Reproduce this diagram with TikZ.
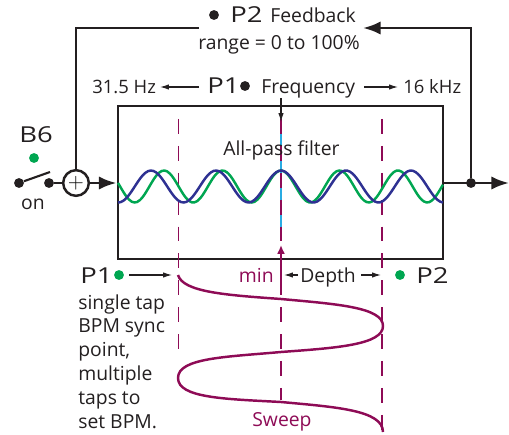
\documentclass[tikz,border=0pt]{standalone}
\usepackage{fontspec}
\setmainfont{Open Sans}
\newfontfamily\widefont[FakeStretch=1.25]{Open Sans}
\usetikzlibrary{arrows.meta}
\definecolor{inkblack}{HTML}{231F20}
\definecolor{sweepred}{HTML}{8E0B56}
\definecolor{ledgreen}{HTML}{00A651}
\definecolor{waveblue}{HTML}{2E3192}
\definecolor{centercyan}{HTML}{29ABE2}
\tikzset{
	lbl/.style={inner sep=0pt, text=inkblack, font=\fontsize{11}{13.6}\selectfont},
	hzlbl/.style={inner sep=0pt, text=inkblack, font=\fontsize{10.5}{13.6}\selectfont},
	taplbl/.style={inner sep=0pt, text=inkblack, font=\fontsize{11}{13.6}\selectfont},
	biglbl/.style={inner sep=0pt, text=inkblack, font=\fontsize{12.5}{14}\selectfont\widefont},
	flow/.style={draw=inkblack, line width=1.5pt, -{Latex[length=10pt,width=7.5pt]}},
	thinarrow/.style={draw=inkblack, line width=0.6pt, -{Latex[length=5pt,width=3pt]}},
	blackdot/.style={circle, fill=inkblack, inner sep=0pt, minimum size=5.6pt},
	greendot/.style={circle, fill=ledgreen, inner sep=0pt, minimum size=5.6pt},
	guide/.style={draw=sweepred, line width=0.7pt, dash pattern=on 8.5pt off 6.8pt},
}
\begin{document}
\begin{tikzpicture}
	\useasboundingbox (0.00,0.00) rectangle (10.18,8.68);
	% filter box and the guides
	\node[draw=inkblack, line width=1.7pt, minimum width=6.50cm, minimum height=3.06cm, inner sep=0pt] (filter) at (5.61,5.03) {};
	\draw[draw=centercyan, line width=0.7pt] (5.62,6.24) -- (5.62,4.06);
	\draw[guide] (3.57,6.30) -- (3.57,1.58);
	\draw[guide] (5.62,6.30) -- (5.62,0.68);
	\draw[guide] (7.64,6.30) -- (7.64,0.04);
	% the two waves
	\draw[draw=ledgreen, line width=1.4pt] plot[smooth, samples=120, domain=2.36:8.86] (\x,{4.95+0.32*cos(360*(\x-5.62)/1.17)});
	\draw[draw=waveblue, line width=1.4pt] plot[smooth, samples=120, domain=2.36:8.86] (\x,{4.95+0.32*cos(360*(\x-5.62)/1.30)});
	% sweep
	\draw[draw=sweepred, line width=1.4pt] (3.56,3.18) .. controls (3.66,2.84) and (4.50,2.78) .. (5.62,2.70)
		.. controls (6.70,2.60) and (7.66,2.54) .. (7.66,2.16)
		.. controls (7.66,1.78) and (6.70,1.72) .. (5.62,1.64)
		.. controls (4.50,1.54) and (3.56,1.52) .. (3.56,1.12)
		.. controls (3.56,0.72) and (4.50,0.70) .. (5.62,0.64)
		.. controls (6.70,0.54) and (7.66,0.48) .. (7.66,0.04);
	% switch and mixer
	\node[blackdot] (swleft) at (0.38,5.02) {};
	\node[blackdot] (swright) at (0.98,5.02) {};
	\coordinate (swarm) at (1.00,5.24);
	\node[circle, draw=inkblack, fill=white, line width=1.4pt, minimum size=14.6pt, inner sep=0pt, font=\fontsize{13}{13}\selectfont] (mixer) at (1.52,5.02) {$+$};
	\node[blackdot] (tap) at (9.42,5.02) {};
	\coordinate (outend) at (10.18,5.02);
	\coordinate (fbstart) at (3.98,8.12);
	\coordinate (fbend) at (7.26,8.12);
	\draw[draw=inkblack, line width=1.2pt] (swleft) -- (swarm);
	\draw[draw=inkblack, line width=1.2pt] (swright) -- (mixer);
	\draw[flow] (mixer) -- (filter.west |- mixer);
	\draw[draw=inkblack, line width=1.5pt] (fbstart) -| (mixer.north);
	\draw[flow] (tap) |- (fbend);
	\draw[flow] (filter.east |- tap) -- (outend);
	% top labels
	\node[blackdot] (fbdot) at (4.28,8.38) {};
	\node[biglbl, anchor=base west] (fbknob) at (4.60,8.22) {P2};
	\node[lbl, anchor=base west] (fbtext) at (5.40,8.22) {Feedback};
	\node[lbl, anchor=base west] (fbrange) at (3.96,7.70) {range = 0 to 100\%};
	\node[hzlbl, anchor=base west] (lowhz) at (1.84,6.82) {31.5 Hz};
	\node[biglbl, anchor=base west] (freqknob) at (4.14,6.82) {P1};
	\node[blackdot] (freqdot) at (4.90,6.96) {};
	\node[lbl, anchor=base west] (freqtext) at (5.22,6.82) {Frequency};
	\node[hzlbl, anchor=base west] (highhz) at (8.06,6.82) {16 kHz};
	\node[lbl, anchor=base west] (filtertext) at (4.46,5.58) {All-pass filter};
	\node[biglbl, anchor=base west] (btnlabel) at (0.38,5.82) {B6};
	\node[greendot] (btndot) at (0.68,5.52) {};
	\node[lbl, anchor=base] (onlabel) at (0.66,4.48) {on};
	% lower labels
	\node[biglbl, anchor=base west] (tapknob) at (1.60,3.02) {P1};
	\node[greendot] (tapdot) at (2.38,3.18) {};
	\node[taplbl, anchor=north west, align=left] (taptext) at (1.56,2.80) {single tap\\BPM sync\\point,\\multiple\\taps to\\set BPM.};
	\node[lbl, text=sweepred, anchor=base east] (minlabel) at (5.48,3.04) {min};
	\node[lbl, anchor=base west] (depthtext) at (6.00,3.04) {Depth};
	\node[greendot] (depthdot) at (8.00,3.18) {};
	\node[biglbl, anchor=base west] (depthknob) at (8.32,3.02) {P2};
	\node[lbl, text=sweepred, anchor=base west] (sweeptext) at (5.04,0.14) {Sweep};
	% small arrows
	\coordinate (lowstart) at (3.98,6.94);
	\coordinate (lowend) at (3.20,6.94);
	\coordinate (highstart) at (7.28,6.94);
	\coordinate (highend) at (7.96,6.94);
	\coordinate (freqstart) at (5.62,6.72);
	\coordinate (freqend) at (5.62,6.24);
	\coordinate (tapstart) at (2.58,3.18);
	\coordinate (tapend) at (3.44,3.18);
	\coordinate (depthleft) at (5.68,3.18);
	\coordinate (depthright) at (7.62,3.18);
	\coordinate (depthlstart) at (5.96,3.18);
	\coordinate (depthrstart) at (7.22,3.18);
	\coordinate (minstart) at (5.62,2.94);
	\coordinate (minend) at (5.62,3.78);
	\draw[thinarrow] (lowstart) -- (lowend);
	\draw[thinarrow] (highstart) -- (highend);
	\draw[thinarrow] (freqstart) -- (freqend);
	\draw[thinarrow] (tapstart) -- (tapend);
	\draw[thinarrow] (depthlstart) -- (depthleft);
	\draw[thinarrow] (depthrstart) -- (depthright);
	\draw[draw=sweepred, line width=1.4pt, -{Latex[length=5pt,width=4.5pt]}] (minstart) -- (minend);
\end{tikzpicture}
\end{document}
